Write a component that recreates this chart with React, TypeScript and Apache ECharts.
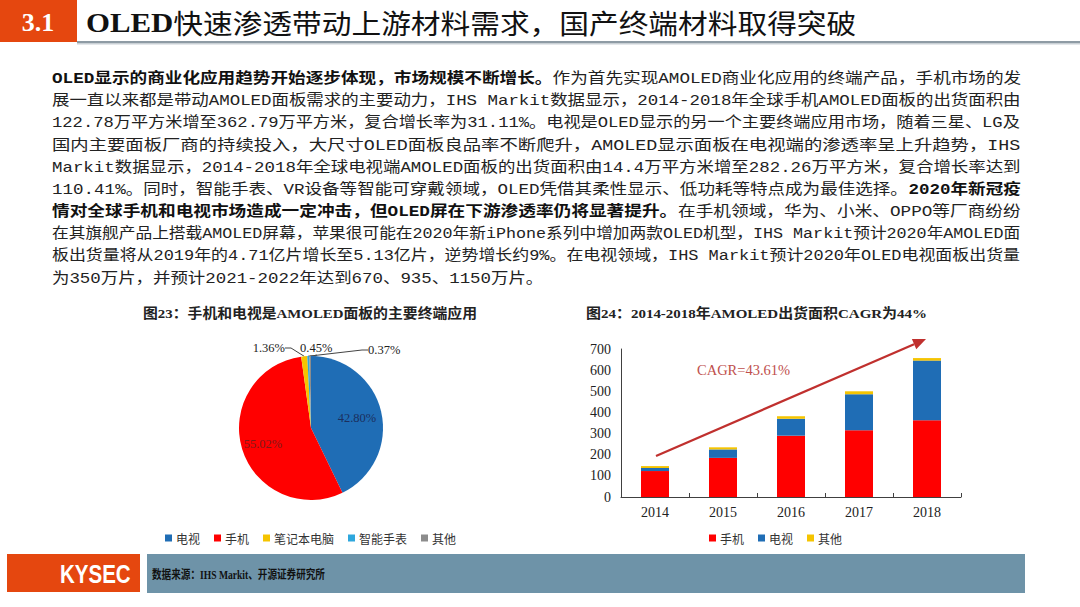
import React, { useEffect, useRef } from 'react';
import * as echarts from 'echarts';

// ---------- data ----------
const pieNames = ['电视', '手机', '笔记本电脑', '智能手表', '其他'];
const pieValues = [42.8, 55.02, 1.36, 0.45, 0.37];
const pieColors = ['#1F6DB5', '#FF0000', '#F5C400', '#2EA7DD', '#8C8C8C'];

const years = ['2014', '2015', '2016', '2017', '2018'];
const phoneArea = [122.78, 185, 290, 316, 362.79];
const tvArea = [14.4, 40, 80, 170, 282.26];
const otherArea = [9, 10, 12, 14, 12];
const barSeriesNames = ['手机', '电视', '其他'];
const barColors = ['#FF0000', '#1F6DB5', '#F5C400'];
const cagrLabel = 'CAGR=43.61%';

const headerNo = '3.1';
const headerTitleBold = 'OLED';
const headerTitleRest = '快速渗透带动上游材料需求，国产终端材料取得突破';
const pieTitle = '图23：手机和电视是AMOLED面板的主要终端应用';
const barTitle = '图24：2014-2018年AMOLED出货面积CAGR为44%';
const sourceText = '数据来源：IHS Markit、开源证券研究所';
const logoText = 'KYSEC';

type Seg = { t: string; b?: boolean };
const paragraph: Seg[][] = [
  [{ t: 'OLED显示的商业化应用趋势开始逐步体现，市场规模不断增长。', b: true }, { t: '作为首先实现AMOLED商业化应用的终端产品，手机市场的发' }],
  [{ t: '展一直以来都是带动AMOLED面板需求的主要动力，IHS Markit数据显示，2014-2018年全球手机AMOLED面板的出货面积由' }],
  [{ t: '122.78万平方米增至362.79万平方米，复合增长率为31.11%。电视是OLED显示的另一个主要终端应用市场，随着三星、LG及' }],
  [{ t: '国内主要面板厂商的持续投入，大尺寸OLED面板良品率不断爬升，AMOLED显示面板在电视端的渗透率呈上升趋势，IHS' }],
  [{ t: 'Markit数据显示，2014-2018年全球电视端AMOLED面板的出货面积由14.4万平方米增至282.26万平方米，复合增长率达到' }],
  [{ t: '110.41%。同时，智能手表、VR设备等智能可穿戴领域，OLED凭借其柔性显示、低功耗等特点成为最佳选择。' }, { t: '2020年新冠疫', b: true }],
  [{ t: '情对全球手机和电视市场造成一定冲击，但OLED屏在下游渗透率仍将显著提升。', b: true }, { t: '在手机领域，华为、小米、OPPO等厂商纷纷' }],
  [{ t: '在其旗舰产品上搭载AMOLED屏幕，苹果很可能在2020年新iPhone系列中增加两款OLED机型，IHS Markit预计2020年AMOLED面' }],
  [{ t: '板出货量将从2019年的4.71亿片增长至5.13亿片，逆势增长约9%。在电视领域，IHS Markit预计2020年OLED电视面板出货量' }],
  [{ t: '为350万片，并预计2021-2022年达到670、935、1150万片。' }],
];

const PARA_FAMILY = "'Liberation Mono', 'Noto Sans CJK SC', monospace";
const SERIF_CJK = "'Liberation Serif', 'Noto Sans CJK SC', serif";
const CJK = "'Noto Sans CJK SC', sans-serif";

function measure(segs: Seg[], size: number): number {
  const ctx = document.createElement('canvas').getContext('2d');
  if (!ctx) return 900;
  let w = 0;
  for (const s of segs) {
    ctx.font = `${s.b ? 'bold' : 'normal'} ${size}px ${PARA_FAMILY}`;
    w += ctx.measureText(s.t).width;
  }
  return w;
}

function buildOption() {
  const PARA_SIZE = 15;
  const PARA_LEFT = 52;
  const PARA_WIDTH = 969;
  const PARA_TOP = 79;
  const PARA_STEP = 22.2;

  const scales = paragraph.map((segs) => PARA_WIDTH / measure(segs, PARA_SIZE));
  const avg = scales.slice(0, scales.length - 1).reduce((a, b) => a + b, 0) / (scales.length - 1);

  const paraTexts = paragraph.map((segs, i) => ({
    type: 'text',
    x: PARA_LEFT,
    y: PARA_TOP + i * PARA_STEP,
    scaleX: i === paragraph.length - 1 ? avg : scales[i],
    style: {
      text: segs.map((s) => `{${s.b ? 'b' : 'n'}|${s.t}}`).join(''),
      verticalAlign: 'middle',
      rich: {
        b: { fontFamily: PARA_FAMILY, fontSize: PARA_SIZE, fontWeight: 'bold', fill: '#111' },
        n: { fontFamily: PARA_FAMILY, fontSize: PARA_SIZE, fontWeight: 'normal', fill: '#222' },
      },
    },
  }));

  // arrow geometry (annotation)
  const sx = 656, sy = 456, tx = 926, ty = 339;
  const dx = tx - sx, dy = ty - sy;
  const len = Math.sqrt(dx * dx + dy * dy);
  const ux = dx / len, uy = dy / len;
  const hl = 13, hw = 5.5;
  const bx = tx - hl * ux, by = ty - hl * uy;

  const graphic: any[] = [
    { type: 'rect', shape: { x: 0, y: 0, width: 77, height: 42 }, style: { fill: '#E5470F' } },
    { type: 'rect', shape: { x: 77, y: 41, width: 1003, height: 2 }, style: { fill: '#8E9BA4' } },
    { type: 'rect', shape: { x: 77, y: 43, width: 1003, height: 1.5 }, style: { fill: '#C9D0D5' } },
    {
      type: 'text', x: 38, y: 22,
      style: { text: headerNo, fill: '#fff', font: "bold 26px 'Liberation Serif', serif", align: 'center', verticalAlign: 'middle' },
    },
    {
      type: 'text', x: 86, y: 22, scaleX: 1.1,
      style: {
        text: `{b|${headerTitleBold}}{n|${headerTitleRest}}`,
        verticalAlign: 'middle',
        rich: {
          b: { fontFamily: "'Liberation Serif', serif", fontWeight: 'bold', fontSize: 28, fill: '#111' },
          n: { fontFamily: CJK, fontWeight: 'normal', fontSize: 27, fill: '#111' },
        },
      },
    },
    ...paraTexts,
    {
      type: 'text', x: 143, y: 313, scaleX: 1.1,
      style: { text: pieTitle, fill: '#222', font: `bold 13.5px ${SERIF_CJK}`, verticalAlign: 'middle' },
    },
    {
      type: 'text', x: 586, y: 313, scaleX: 1.11,
      style: { text: barTitle, fill: '#222', font: `bold 13.5px ${SERIF_CJK}`, verticalAlign: 'middle' },
    },
    {
      type: 'line',
      shape: { x1: sx, y1: sy, x2: bx, y2: by },
      style: { stroke: '#C0302E', lineWidth: 2.2 },
    },
    {
      type: 'polygon',
      shape: {
        points: [
          [tx, ty],
          [bx + hw * -uy, by + hw * ux],
          [bx - hw * -uy, by - hw * ux],
        ],
      },
      style: { fill: '#C0302E' },
    },
    {
      type: 'text', x: 697, y: 370,
      style: { text: cagrLabel, fill: '#C0504D', font: "14.5px 'Liberation Serif', serif", verticalAlign: 'middle' },
    },
    { type: 'rect', shape: { x: 7, y: 554, width: 133, height: 38 }, style: { fill: '#E5470F' } },
    {
      type: 'text', x: 60, y: 574, scaleX: 0.82,
      style: { text: logoText, fill: '#fff', font: "bold 25px 'Liberation Sans', sans-serif", verticalAlign: 'middle' },
    },
    { type: 'rect', shape: { x: 147, y: 554, width: 878, height: 39 }, style: { fill: '#6E93A8' } },
    {
      type: 'text', x: 152, y: 575, scaleX: 0.8,
      style: { text: sourceText, fill: '#111', font: `bold 12px ${SERIF_CJK}`, verticalAlign: 'middle' },
    },
  ];

  const labelPos: Record<number, any> = {
    0: { x: 357, y: 418, align: 'center' },
    1: { x: 263, y: 444, align: 'center' },
    2: { x: 285, y: 348, align: 'right' },
    3: { x: 300, y: 348, align: 'left' },
    4: { x: 368, y: 350, align: 'left' },
  };
  const insideColors = ['#1B2F5E', '#7F1A1A'];

  return {
    animation: false,
    backgroundColor: '#fff',
    graphic,
    legend: [
      {
        left: 160, top: 527,
        icon: 'rect', itemWidth: 7, itemHeight: 7, itemGap: 14,
        selectedMode: false,
        textStyle: { fontFamily: CJK, fontSize: 12, color: '#333', padding: [0, 0, 0, -1] },
        data: pieNames.map((n, i) => ({ name: n, itemStyle: { color: pieColors[i] } })),
      },
      {
        left: 704, top: 527,
        icon: 'rect', itemWidth: 7, itemHeight: 7, itemGap: 14,
        selectedMode: false,
        textStyle: { fontFamily: CJK, fontSize: 12, color: '#333', padding: [0, 0, 0, -1] },
        data: barSeriesNames.map((n, i) => ({ name: n, itemStyle: { color: barColors[i] } })),
      },
    ],
    grid: { left: 621, top: 349, width: 340, height: 148, containLabel: false },
    xAxis: {
      type: 'category',
      data: years,
      axisLine: { lineStyle: { color: '#404040', width: 1 } },
      axisTick: { show: true, inside: true, length: 4, lineStyle: { color: '#404040' } },
      axisLabel: { fontFamily: "'Liberation Serif', serif", fontSize: 14, color: '#222', margin: 8 },
    },
    yAxis: {
      type: 'value',
      min: 0, max: 700, interval: 100,
      axisLine: { show: true, lineStyle: { color: '#404040', width: 1 } },
      axisTick: { show: false },
      splitLine: { show: false },
      axisLabel: { fontFamily: "'Liberation Serif', serif", fontSize: 14, color: '#222', margin: 10 },
    },
    series: [
      { name: barSeriesNames[0], type: 'bar', stack: 'a', barWidth: 28, data: phoneArea, itemStyle: { color: barColors[0] } },
      { name: barSeriesNames[1], type: 'bar', stack: 'a', barWidth: 28, data: tvArea, itemStyle: { color: barColors[1] } },
      { name: barSeriesNames[2], type: 'bar', stack: 'a', barWidth: 28, data: otherArea, itemStyle: { color: barColors[2] } },
      {
        name: 'AMOLED应用',
        type: 'pie',
        center: [311, 428],
        radius: 72,
        startAngle: 90,
        clockwise: true,
        avoidLabelOverlap: false,
        data: pieNames.map((n, i) => ({
          name: n,
          value: pieValues[i],
          itemStyle: { color: pieColors[i] },
          label: i < 2
            ? { position: 'inside', color: insideColors[i] }
            : { position: 'outside', color: '#222' },
          labelLine: { show: i >= 2, length: 6, length2: 6, lineStyle: { color: '#444', width: 1 } },
        })),
        label: {
          show: true,
          fontFamily: "'Liberation Serif', serif",
          fontSize: 12.5,
          formatter: (p: any) => `${Number(p.value).toFixed(2)}%`,
        },
        labelLayout: (params: any) => ({ ...labelPos[params.dataIndex], verticalAlign: 'middle' }),
        emphasis: { disabled: true },
      },
    ],
  };
}

export default function App() {
  const ref = useRef<HTMLDivElement>(null);
  useEffect(() => {
    if (!ref.current) return;
    const chart = echarts.init(ref.current, null, { renderer: 'svg' });
    chart.setOption(buildOption() as any);
    return () => chart.dispose();
  }, []);
  return (
    <div
      ref={ref}
      style={{ position: 'fixed', left: 0, top: 0, width: 1080, height: 607, background: '#fff' }}
    />
  );
}
